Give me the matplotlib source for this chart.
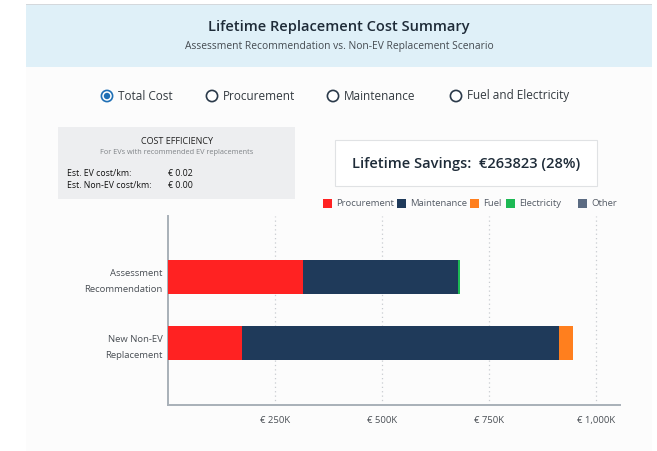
import matplotlib
matplotlib.use("Agg")
import matplotlib.pyplot as plt
from matplotlib.patches import Rectangle, Circle
import numpy as np

plt.rcParams['font.family'] = ['Open Sans', 'DejaVu Sans']

# ---------------- data ----------------
scenarios = ["Assessment\nRecommendation", "New Non-EV\nReplacement"]
components = ["Procurement", "Maintenance", "Fuel", "Electricity", "Other"]
procurement = [315000, 172000]
maintenance = [363000, 742000]
fuel = [0, 32000]
electricity = [4000, 0]
other = [0, 0]
colors = ["#FF2222", "#1F3A5A", "#FF7F1E", "#1DB954", "#5B6B82"]
xticks = [250000, 500000, 750000, 1000000]
xtick_labels = ["€ 250K", "€ 500K", "€ 750K", "€ 1,000K"]
radio_options = ["Total Cost", "Procurement", "Maintenance", "Fuel and Electricity"]
ev_cost_km = "€ 0.02"
nonev_cost_km = "€ 0.00"
savings_text = "Lifetime Savings:  €263823 (28%)"

W, H = 657, 451
fig = plt.figure(figsize=(W / 100, H / 100), dpi=100)
fig.patch.set_facecolor("white")

# background / decoration layer in pixel coordinates
bg = fig.add_axes([0, 0, 1, 1], zorder=-10)
bg.set_xlim(0, W)
bg.set_ylim(H, 0)
bg.axis("off")

bg.add_patch(Rectangle((26, 67), 626, H - 67, facecolor="#FCFCFC", edgecolor="none"))
bg.add_patch(Rectangle((26, 4), 626, 63, facecolor="#DFF0F8", edgecolor="none"))
bg.add_patch(Rectangle((26, 4), 626, 1.2, facecolor="#D4D8DC", edgecolor="none"))

bg.text(339, 27, "Lifetime Replacement Cost Summary", ha="center", va="center",
        fontsize=10.5, fontweight="semibold", color="#1E2B38")
bg.text(339, 47, "Assessment Recommendation vs. Non-EV Replacement Scenario", ha="center", va="center",
        fontsize=7.4, color="#444A50")

# radio buttons
radio_x = [107, 212, 333, 456]
for i, (rx, lab) in enumerate(zip(radio_x, radio_options)):
    bg.add_patch(Circle((rx, 96), 5.6, facecolor="white",
                        edgecolor="#1F6FB5" if i == 0 else "#2B3A4A", linewidth=1.2))
    if i == 0:
        bg.add_patch(Circle((rx, 96), 3.2, facecolor="#1F6FB5", edgecolor="none"))
    bg.text(rx + 11, 96, lab, ha="left", va="center", fontsize=8.5, color="#333A40")

# cost efficiency box
bg.add_patch(Rectangle((58, 127), 237, 72, facecolor="#EDEEF0", edgecolor="none"))
bg.text(177, 141, "COST EFFICIENCY", ha="center", va="center", fontsize=6.5, color="#222")
bg.text(177, 153, "For EVs with recommended EV replacements", ha="center", va="center",
        fontsize=5.3, color="#808488")
bg.text(67, 173, "Est. EV cost/km:", ha="left", va="center", fontsize=6.3, color="#111")
bg.text(67, 186, "Est. Non-EV cost/km:", ha="left", va="center", fontsize=6.3, color="#111")
bg.text(168, 173, ev_cost_km, ha="left", va="center", fontsize=6.3, color="#111")
bg.text(168, 186, nonev_cost_km, ha="left", va="center", fontsize=6.3, color="#111")

# savings box
bg.add_patch(Rectangle((335, 140), 262, 46, facecolor="white", edgecolor="#E0E2E4", linewidth=0.8))
bg.text(466, 164, savings_text, ha="center", va="center", fontsize=10.5,
        fontweight="semibold", color="#1E2B38")

# legend
leg_x = [323, 397, 470, 506, 578]
for lx, lab, col in zip(leg_x, components, colors):
    bg.add_patch(Rectangle((lx, 199), 9, 8.5, facecolor=col, edgecolor="none"))
    bg.text(lx + 13, 203.5, lab, ha="left", va="center", fontsize=6.8, color="#555C66")

# main chart
ax = fig.add_axes([168 / W, 1 - 405 / H, (620 - 168) / W, (405 - 216) / H], zorder=1)
ax.set_facecolor("none")
y = np.arange(len(scenarios))
left = np.zeros(len(scenarios))
for vals, col in zip([procurement, maintenance, fuel, electricity, other], colors):
    vals = np.array(vals, dtype=float)
    ax.barh(y, vals, left=left, height=0.51, color=col, edgecolor="none", zorder=3)
    left += vals

ax.set_xlim(0, 1056000)
ax.set_ylim(1.93, -0.91)
ax.set_yticks(y)
ax.set_yticklabels(scenarios, fontsize=6.8, color="#4A4F55", linespacing=2.0)
ax.set_xticks(xticks)
ax.set_xticklabels(xtick_labels, fontsize=6.8, color="#4A4F55")
ax.tick_params(axis="y", length=0, pad=4)
ax.tick_params(axis="x", length=0, pad=8)
ax.grid(axis="x", linestyle=(0, (1, 2.5)), color="#C8CCD0", linewidth=0.9, zorder=0)
for s in ["top", "right"]:
    ax.spines[s].set_visible(False)
for s in ["left", "bottom"]:
    ax.spines[s].set_color("#A8B0B8")
    ax.spines[s].set_linewidth(1.4)

fig.savefig("out.png", dpi=100, facecolor=fig.get_facecolor())
